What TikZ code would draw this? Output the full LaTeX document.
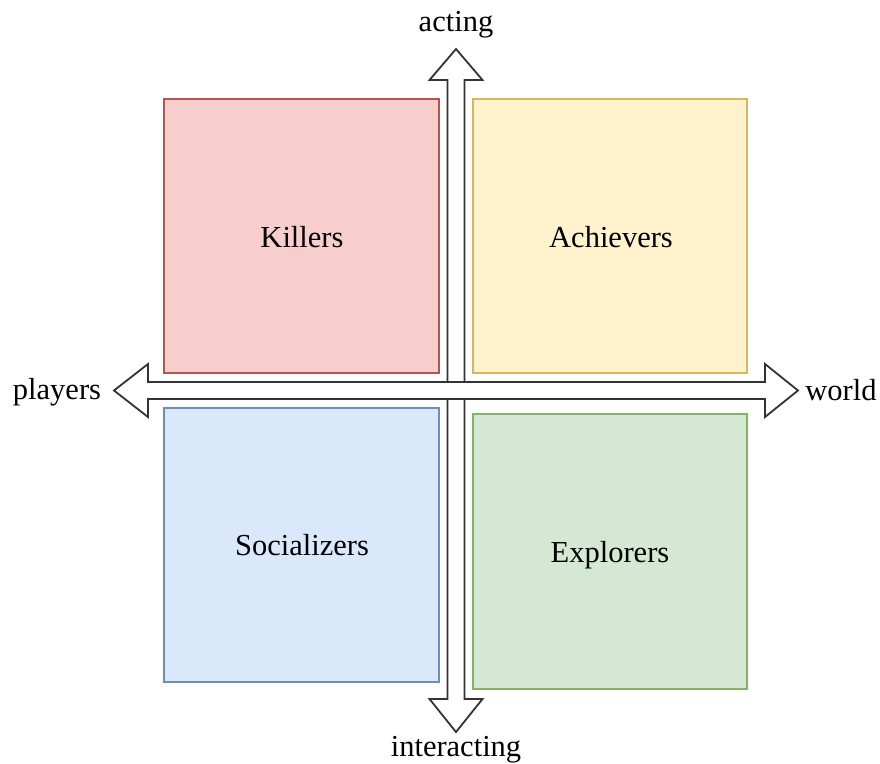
\documentclass[tikz,border=0pt]{standalone}
\usepackage{fontspec}
\setmainfont{Liberation Serif}
\definecolor{kfill}{HTML}{F8CECC}\definecolor{kline}{HTML}{B85450}
\definecolor{afill}{HTML}{FFF2CC}\definecolor{aline}{HTML}{D6B656}
\definecolor{sfill}{HTML}{DAE8FC}\definecolor{sline}{HTML}{6C8EBF}
\definecolor{efill}{HTML}{D5E8D4}\definecolor{eline}{HTML}{82B366}
\definecolor{axline}{HTML}{333333}
\begin{document}
\begin{tikzpicture}[x=1pt,y=-1pt,
  quad/.style={draw, line width=1.6pt, inner sep=0pt, font=\fontsize{30.5}{36}\selectfont},
  axlabel/.style={inner sep=0pt, font=\fontsize{30.5}{36}\selectfont},
  axarrow/.style={draw=axline, fill=white, line width=1.8pt, line join=miter}]
\useasboundingbox (0,0) rectangle (880,763);
% quadrants
\path[quad, draw=kline, fill=kfill] (164,99) rectangle (439,373);
\path[quad, draw=aline, fill=afill] (473,99) rectangle (747,373);
\path[quad, draw=sline, fill=sfill] (164,408) rectangle (439,682);
\path[quad, draw=eline, fill=efill] (473,414) rectangle (747,689);
\node[axlabel] (killers) at (302,237) {Killers};
\node[axlabel] (achievers) at (611,237) {Achievers};
\node[axlabel] (socializers) at (302,545) {Socializers};
\node[axlabel] (explorers) at (610,555) {Explorers};
% vertical double arrow
\path[axarrow] (456,49) -- (482.5,80) -- (464.5,80) -- (464.5,699) -- (482.5,699)
  -- (456,732) -- (429.5,699) -- (447.5,699) -- (447.5,80) -- (429.5,80) -- cycle;
% horizontal double arrow
\path[axarrow] (114,390.5) -- (148,364) -- (148,382) -- (765,382) -- (765,364)
  -- (798,390.5) -- (765,417) -- (765,399) -- (148,399) -- (148,417) -- cycle;
% axis labels
\node[axlabel] (acting) at (456,25) {acting};
\node[axlabel] (interacting) at (456,750) {interacting};
\node[axlabel] (players) at (57,392) {players};
\node[axlabel] (world) at (841,390) {world};
\end{tikzpicture}
\end{document}
